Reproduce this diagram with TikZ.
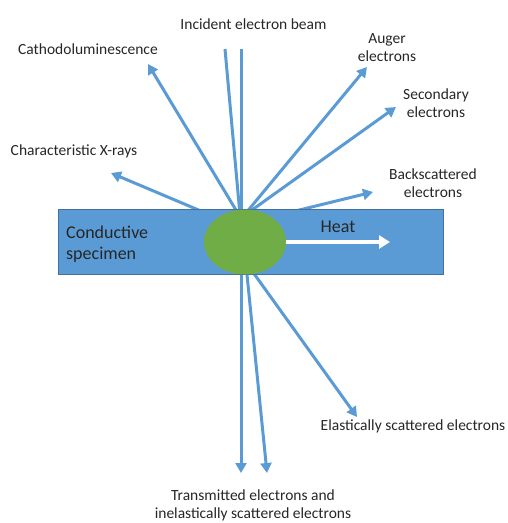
\documentclass[tikz,border=0pt]{standalone}
\usepackage{fontspec}
\setmainfont{Carlito}
\usetikzlibrary{arrows.meta,shapes.geometric}
\definecolor{beam}{HTML}{5B9BD5}
\definecolor{specfill}{HTML}{5B9BD5}
\definecolor{specedge}{HTML}{41719C}
\definecolor{spotc}{HTML}{70AD47}
\definecolor{txt}{HTML}{262626}
\begin{document}
\begin{tikzpicture}[x=1pt,y=-1pt,
  ray/.style={draw=beam, line width=3pt, -{Triangle[length=10pt,width=11pt]}},
  incbeam/.style={draw=beam, line width=3pt},
  lbl/.style={font=\fontsize{15.5}{18}\selectfont, text=txt, inner sep=0pt, align=center},
  biglbl/.style={font=\fontsize{18}{20.5}\selectfont, text=txt, inner sep=0pt, align=left}]
\useasboundingbox (0,0) rectangle (507,523);
% start points (hidden behind the specimen)
\coordinate (sC) at (245,225);
\coordinate (sX) at (234,225);
\coordinate (sA) at (236,225);
\coordinate (sS) at (231,225);
\coordinate (sB) at (238,225);
\coordinate (sT1) at (241,250);
\coordinate (sT2) at (244.5,250);
\coordinate (sE) at (237,250);
% free ends
\coordinate (i1) at (225,49);
\coordinate (i2) at (241,49);
\coordinate (e1) at (240,215);
\coordinate (e2) at (241,215);
\coordinate (tC) at (148,64);
\coordinate (tX) at (111,173);
\coordinate (tA) at (367,67);
\coordinate (tS) at (396,107);
\coordinate (tB) at (373,192);
\coordinate (tT1) at (241,473);
\coordinate (tT2) at (267,473);
\coordinate (tE) at (357,417);
\coordinate (tH) at (390,242);
% rays
\draw[incbeam] (i1) -- (e1);
\draw[incbeam] (i2) -- (e2);
\draw[ray] (sC) -- (tC);
\draw[ray] (sX) -- (tX);
\draw[ray] (sA) -- (tA);
\draw[ray] (sS) -- (tS);
\draw[ray] (sB) -- (tB);
\draw[ray] (sT1) -- (tT1);
\draw[ray] (sT2) -- (tT2);
\draw[ray] (sE) -- (tE);
% specimen
\node[draw=specedge, fill=specfill, line width=1pt, minimum width=385, minimum height=65, anchor=north west, inner sep=0pt] (spec) at (58,209) {};
\node[ellipse, fill=spotc, minimum width=82, minimum height=65, inner sep=0pt] (spot) at (245,242) {};
\draw[white, line width=4pt, -{Triangle[length=11pt,width=13pt]}] (spot.east) -- (tH);
% labels
\node[lbl, anchor=base] (lInc) at (253.5,29) {Incident electron beam};
\node[lbl, anchor=base] (lCat) at (88,54) {Cathodoluminescence};
\node[lbl, anchor=base] (lXr) at (74,155) {Characteristic X-rays};
\node[lbl, anchor=north] (lAug) at (387,33) {Auger\\electrons};
\node[lbl, anchor=north] (lSec) at (436,89) {Secondary\\electrons};
\node[lbl, anchor=north] (lBack) at (433,169) {Backscattered\\electrons};
\node[lbl, anchor=base] (lEl) at (413,430) {Elastically scattered electrons};
\node[lbl, anchor=north] (lTr) at (253,490) {Transmitted electrons and\\inelastically scattered electrons};
\node[biglbl, anchor=north west] (lSpec) at (66,226) {Conductive\\specimen};
\node[biglbl, anchor=base] (lHeat) at (338,232) {Heat};
\end{tikzpicture}
\end{document}
